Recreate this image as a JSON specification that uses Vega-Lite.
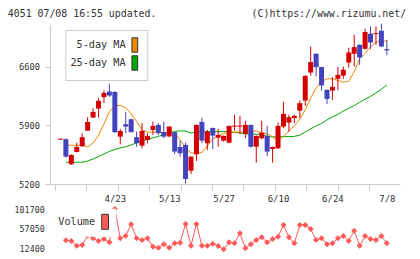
{
  "$schema": "https://vega.github.io/schema/vega-lite/v6.json",
  "width": 350,
  "height": 224,
  "autosize": "none",
  "padding": {"left": 50, "top": 25, "right": 20, "bottom": 10},
  "background": "white",
  "title": {
    "text": "4051 07/08 16:55 updated.\u00a0\u00a0\u00a0\u00a0\u00a0\u00a0\u00a0\u00a0\u00a0\u00a0\u00a0\u00a0\u00a0\u00a0\u00a0\u00a0(C)https://www.rizumu.net/",
    "frame": "group",
    "anchor": "start",
    "align": "left",
    "dx": -42.2,
    "dy": 10.5,
    "baseline": "alphabetic",
    "offset": 7,
    "font": "DejaVu Sans Mono",
    "fontSize": 9.9,
    "fontWeight": "normal",
    "color": "#333333"
  },
  "config": {"view": {"stroke": null}},
  "datasets": {
    "px": [
      {"i":0,"open":5730,"high":5742,"low":5730,"close":5742},
      {"i":1,"open":5735,"high":5747,"low":5515,"close":5527,"vol":30600,"ma5":5663,"ma25":5460},
      {"i":2,"open":5436,"high":5555,"low":5427,"close":5547,"vol":29000,"ma5":5663,"ma25":5460},
      {"i":3,"open":5583,"high":5694,"low":5578,"close":5643,"vol":18300,"ma5":5663,"ma25":5460},
      {"i":4,"open":5651,"high":5807,"low":5646,"close":5759,"vol":19900,"ma5":5663,"ma25":5460},
      {"i":5,"open":5838,"high":5998,"low":5835,"close":5942,"vol":41500,"ma5":5643,"ma25":5475},
      {"i":6,"open":5994,"high":6106,"low":5990,"close":6062,"vol":35100,"ma5":5691,"ma25":5499},
      {"i":7,"open":6101,"high":6229,"low":5998,"close":6194,"vol":29000,"ma5":5781,"ma25":5529},
      {"i":8,"open":6238,"high":6317,"low":6166,"close":6289,"vol":33500,"ma5":5918,"ma25":5559},
      {"i":9,"open":6305,"high":6397,"low":6241,"close":6257,"vol":26000,"ma5":6062,"ma25":5589},
      {"i":10,"open":6300,"high":6310,"low":5810,"close":5819,"vol":101700,"ma5":6134,"ma25":5613},
      {"i":11,"open":5766,"high":5858,"low":5673,"close":5834,"vol":35100,"ma5":6140,"ma25":5631},
      {"i":12,"open":5915,"high":6058,"low":5807,"close":5886,"vol":41000,"ma5":6110,"ma25":5645},
      {"i":13,"open":5974,"high":5980,"low":5815,"close":5819,"vol":66900,"ma5":6038,"ma25":5667},
      {"i":14,"open":5759,"high":5826,"low":5646,"close":5687,"vol":35100,"ma5":5948,"ma25":5691},
      {"i":15,"open":5658,"high":5927,"low":5627,"close":5834,"vol":31300,"ma5":5846,"ma25":5715},
      {"i":16,"open":5727,"high":5807,"low":5687,"close":5775,"vol":35100,"ma5":5819,"ma25":5733},
      {"i":17,"open":5846,"high":5946,"low":5787,"close":5894,"vol":16000,"ma5":5822,"ma25":5751},
      {"i":18,"open":5906,"high":5927,"low":5787,"close":5807,"vol":13800,"ma5":5816,"ma25":5769},
      {"i":19,"open":5822,"high":5946,"low":5747,"close":5766,"vol":21500,"ma5":5810,"ma25":5793},
      {"i":20,"open":5769,"high":5890,"low":5759,"close":5886,"vol":13800,"ma5":5816,"ma25":5816},
      {"i":21,"open":5819,"high":5822,"low":5555,"close":5587,"vol":23800,"ma5":5799,"ma25":5828},
      {"i":22,"open":5643,"high":5715,"low":5527,"close":5567,"vol":25100,"ma5":5727,"ma25":5834},
      {"i":23,"open":5667,"high":5694,"low":5208,"close":5260,"vol":67600,"ma5":5631,"ma25":5834},
      {"i":24,"open":5359,"high":5530,"low":5320,"close":5527,"vol":18300,"ma5":5571,"ma25":5810},
      {"i":25,"open":5555,"high":5910,"low":5475,"close":5906,"vol":67600,"ma5":5567,"ma25":5822},
      {"i":26,"open":5942,"high":5990,"low":5687,"close":5718,"vol":18300,"ma5":5577,"ma25":5826},
      {"i":27,"open":5687,"high":5846,"low":5607,"close":5826,"vol":18300,"ma5":5655,"ma25":5826},
      {"i":28,"open":5870,"high":5874,"low":5615,"close":5778,"vol":22900,"ma5":5739,"ma25":5826},
      {"i":29,"open":5754,"high":5858,"low":5646,"close":5787,"vol":17600,"ma5":5775,"ma25":5826},
      {"i":30,"open":5718,"high":5780,"low":5706,"close":5775,"vol":10100,"ma5":5804,"ma25":5826},
      {"i":31,"open":5694,"high":5898,"low":5687,"close":5894,"vol":26000,"ma5":5816,"ma25":5826},
      {"i":32,"open":5886,"high":6026,"low":5838,"close":5898,"vol":23800,"ma5":5822,"ma25":5816},
      {"i":33,"open":5886,"high":6014,"low":5795,"close":5898,"vol":46500,"ma5":5822,"ma25":5810},
      {"i":34,"open":5799,"high":5954,"low":5747,"close":5906,"vol":12400,"ma5":5816,"ma25":5799},
      {"i":35,"open":5906,"high":5910,"low":5635,"close":5646,"vol":21500,"ma5":5834,"ma25":5793},
      {"i":36,"open":5646,"high":5780,"low":5455,"close":5775,"vol":31300,"ma5":5834,"ma25":5795},
      {"i":37,"open":5747,"high":5954,"low":5735,"close":5814,"vol":37400,"ma5":5810,"ma25":5793},
      {"i":38,"open":5775,"high":5894,"low":5535,"close":5587,"vol":26000,"ma5":5799,"ma25":5769},
      {"i":39,"open":5619,"high":5646,"low":5455,"close":5643,"vol":33500,"ma5":5763,"ma25":5763},
      {"i":40,"open":5627,"high":5934,"low":5615,"close":5894,"vol":38800,"ma5":5718,"ma25":5763},
      {"i":41,"open":5886,"high":6185,"low":5867,"close":6038,"vol":65300,"ma5":5769,"ma25":5766},
      {"i":42,"open":5934,"high":6026,"low":5826,"close":5998,"vol":37400,"ma5":5834,"ma25":5766},
      {"i":43,"open":5990,"high":6026,"low":5927,"close":6014,"vol":23800,"ma5":5894,"ma25":5769},
      {"i":44,"open":6077,"high":6197,"low":5986,"close":6166,"vol":65300,"ma5":5972,"ma25":5783},
      {"i":45,"open":6197,"high":6497,"low":6134,"close":6493,"vol":65300,"ma5":6086,"ma25":5822},
      {"i":46,"open":6532,"high":6843,"low":6493,"close":6657,"vol":56200,"ma5":6229,"ma25":5858},
      {"i":47,"open":6756,"high":6760,"low":6484,"close":6597,"vol":31300,"ma5":6349,"ma25":5894},
      {"i":48,"open":6597,"high":6600,"low":6317,"close":6377,"vol":35100,"ma5":6421,"ma25":5924},
      {"i":49,"open":6325,"high":6330,"low":6158,"close":6217,"vol":21500,"ma5":6457,"ma25":5966},
      {"i":50,"open":6317,"high":6477,"low":6205,"close":6361,"vol":23800,"ma5":6457,"ma25":6002},
      {"i":51,"open":6457,"high":6597,"low":6325,"close":6505,"vol":35100,"ma5":6439,"ma25":6032},
      {"i":52,"open":6496,"high":6604,"low":6457,"close":6565,"vol":40300,"ma5":6415,"ma25":6071},
      {"i":53,"open":6652,"high":6828,"low":6592,"close":6772,"vol":29000,"ma5":6427,"ma25":6104},
      {"i":54,"open":6756,"high":6984,"low":6604,"close":6836,"vol":52400,"ma5":6541,"ma25":6137},
      {"i":55,"open":6864,"high":6868,"low":6624,"close":6712,"vol":18300,"ma5":6696,"ma25":6176},
      {"i":56,"open":6816,"high":7055,"low":6804,"close":7016,"vol":40300,"ma5":6762,"ma25":6214},
      {"i":57,"open":6996,"high":7083,"low":6812,"close":6891,"vol":33500,"ma5":6840,"ma25":6247},
      {"i":58,"open":6990,"high":7083,"low":6864,"close":7002,"vol":31300,"ma5":6894,"ma25":6289},
      {"i":59,"open":7031,"high":7115,"low":6840,"close":6843,"vol":40300,"ma5":6912,"ma25":6331},
      {"i":60,"open":6812,"high":6924,"low":6736,"close":6796,"vol":23800,"ma5":6906,"ma25":6385}
    ]
  },
  "data": {"name": "px"},
  "encoding": {
    "x": {
      "field": "i",
      "type": "quantitative",
      "scale": {"domain": [-1, 61.5], "nice": false, "zero": false},
      "axis": {
        "title": null,
        "orient": "bottom",
        "offset": -65,
        "values": [-1, 4.71, 10, 10.5, 16.29, 20, 22.07, 27.86, 30, 33.64, 39.43, 40, 45.21, 50, 51.01, 56.79, 60],
        "labelExpr": "datum.value == 10 ? '4/23' : datum.value == 20 ? '5/13' : datum.value == 30 ? '5/27' : datum.value == 40 ? '6/10' : datum.value == 50 ? '6/24' : datum.value == 60 ? '7/8' : ''",
        "tickSize": 6,
        "tickColor": "#cccccc",
        "tickOpacity": {"condition": {"test": "datum.value % 10 == 0", "value": 0}, "value": 1},
        "domainColor": "#cccccc",
        "grid": false,
        "labelPadding": 4.5,
        "labelFont": "DejaVu Sans Mono",
        "labelFontSize": 9,
        "labelColor": "#333333",
        "labelOverlap": false,
        "labelFlush": false,
        "labelBound": false
      }
    }
  },
  "layer": [
    {
      "layer": [
        {
          "mark": {"type": "line", "color": "#00aa00", "strokeWidth": 1},
          "encoding": {
            "y": {
              "field": "ma25",
              "type": "quantitative",
              "scale": {"domain": [5200, 7100], "range": [159, 0], "zero": false, "nice": false},
              "axis": {
                "title": null,
                "orient": "left",
                "values": [5200, 5900, 6600],
                "format": "d",
                "tickSize": 5,
                "tickColor": "#cccccc",
                "domainColor": "#cccccc",
                "grid": false,
                "labelPadding": 5.5,
                "labelFont": "DejaVu Sans Mono",
                "labelFontSize": 8.7,
                "labelColor": "#333333"
              }
            }
          }
        },
        {
          "mark": {"type": "line", "color": "#ee8800", "strokeWidth": 1},
          "encoding": {"y": {"field": "ma5", "type": "quantitative"}}
        },
        {
          "mark": {"type": "rule", "strokeWidth": 1},
          "encoding": {
            "y": {"field": "high", "type": "quantitative"},
            "y2": {"field": "low"},
            "color": {"condition": {"test": "datum.close >= datum.open", "value": "#d40000"}, "value": "#4343be"}
          }
        },
        {
          "mark": {"type": "bar", "width": 5},
          "encoding": {
            "y": {"field": "open", "type": "quantitative"},
            "y2": {"field": "close"},
            "color": {"condition": {"test": "datum.close >= datum.open", "value": "#d40000"}, "value": "#4343be"}
          }
        },
        {
          "transform": [{"fold": ["ma5", "ma25"], "as": ["series", "val"]}],
          "mark": {"type": "square", "opacity": 0},
          "encoding": {
            "y": {"field": "val", "type": "quantitative"},
            "color": {
              "field": "series",
              "type": "nominal",
              "scale": {"domain": ["ma5", "ma25"], "range": ["#ee8800", "#00aa00"]},
              "legend": {
                "title": null,
                "orient": "none",
                "legendX": 15.3,
                "legendY": 5,
                "direction": "vertical",
                "padding": 7,
                "rowPadding": -4,
                "fillColor": "#ffffff",
                "strokeColor": "#cccccc",
                "symbolType": "M-0.4,-1H0.4V1H-0.4Z",
                "symbolSize": 207,
                "symbolStrokeColor": "#333333",
                "symbolStrokeWidth": 1,
                "symbolOpacity": 1,
                "symbolOffset": 54.5,
                "labelOffset": -17.2,
                "labelAlign": "right",
                "labelFont": "DejaVu Sans Mono",
                "labelFontSize": 10.2,
                "labelColor": "#333333",
                "labelExpr": "datum.value == 'ma5' ? '5-day MA' : '25-day MA'",
                "zindex": 1
              }
            }
          }
        }
      ]
    },
    {
      "layer": [
        {
          "mark": {"type": "line", "color": "#ff5a5a", "strokeWidth": 1},
          "encoding": {
            "y": {
              "field": "vol",
              "type": "quantitative",
              "scale": {"domain": [12400, 101700], "range": [223.3, 184], "zero": false, "nice": false},
              "axis": {
                "orient": "left",
                "title": null,
                "values": [12400, 57050, 101700],
                "format": "d",
                "domain": false,
                "ticks": false,
                "grid": false,
                "labelPadding": 5.7,
                "labelFont": "DejaVu Sans Mono",
                "labelFontSize": 8.4,
                "labelColor": "#333333"
              }
            }
          }
        },
        {
          "mark": {"type": "point", "shape": "diamond", "filled": true, "size": 36, "opacity": 1},
          "encoding": {
            "y": {"field": "vol", "type": "quantitative"},
            "fill": {
              "datum": "Volume",
              "type": "nominal",
              "scale": {"range": ["#ff5a5a"]},
              "legend": {
                "title": null,
                "orient": "none",
                "legendX": 4.1,
                "legendY": 183.8,
                "padding": 5,
                "fillColor": "#ffffff",
                "symbolType": "M-0.45,-1H0.45V1H-0.45Z",
                "symbolSize": 225,
                "symbolStrokeColor": "#333333",
                "symbolStrokeWidth": 1,
                "symbolOpacity": 1,
                "symbolOffset": 38,
                "labelOffset": -18,
                "labelAlign": "right",
                "labelFont": "DejaVu Sans Mono",
                "labelFontSize": 10.2,
                "labelColor": "#333333",
                "zindex": 1
              }
            }
          }
        }
      ]
    }
  ],
  "resolve": {"scale": {"y": "independent"}}
}
